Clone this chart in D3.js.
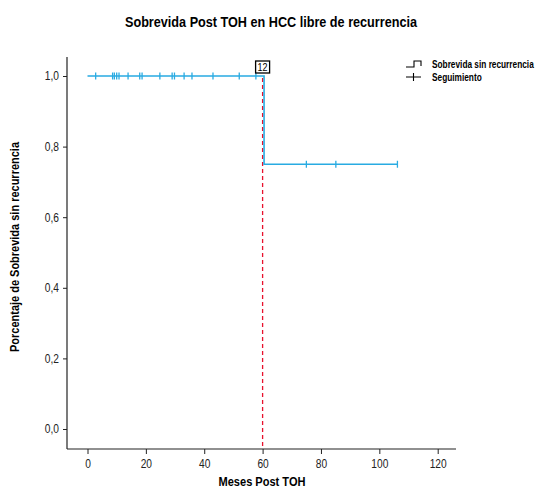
<!DOCTYPE html>
<html>
<head>
<meta charset="utf-8">
<script src="https://cdn.jsdelivr.net/npm/d3@7"></script>
<style>
  body { margin: 0; background: #fff; }
  text { font-family: "Liberation Sans", Arial, sans-serif; }
</style>
</head>
<body>
<svg id="chart" width="542" height="489"></svg>
<script>
// Kaplan-Meier steps (months, survival)
var stepTimes = [0, 60.5, 106.2];
var stepSurv = [1.0, 0.75, 0.75];
// censored follow-up marks
var censorTimes = [2.8, 8.6, 9.2, 10, 10.8, 13.9, 17.9, 18.7, 24.8, 29, 29.8, 33.1, 35.8, 43, 52, 57.7, 75, 85.1, 106.2];
var xTicks = [0, 20, 40, 60, 80, 100, 120];
var yTicks = [0, 0.2, 0.4, 0.6, 0.8, 1.0];
var refLineX = 60;
var boxLabel = "12";
var legendItems = ["Sobrevida sin recurrencia", "Seguimiento"];

var svg = d3.select("#chart");
var x = d3.scaleLinear().domain([0, 120]).range([87.5, 437.7]);
var y = d3.scaleLinear().domain([0, 1]).range([429, 76]);
var blue = "#29abe2";

// squeeze text to look like a narrow face
function narrow(sel, f) {
  sel.each(function() {
    var w = this.getComputedTextLength();
    d3.select(this).attr("textLength", w * f).attr("lengthAdjust", "spacingAndGlyphs");
  });
}

function survAt(t) {
  var s = stepSurv[0];
  for (var i = 0; i < stepTimes.length; i++) {
    if (stepTimes[i] <= t) s = stepSurv[i];
  }
  return s;
}

// axes
var xAxis = svg.append("g").attr("transform", "translate(0,449)")
  .call(d3.axisBottom(x).tickValues(xTicks).tickSize(5).tickSizeOuter(0));
xAxis.select(".domain").attr("d", "M67,0H456");
var yAxis = svg.append("g").attr("transform", "translate(67,0)")
  .call(d3.axisLeft(y).tickValues(yTicks).tickSize(4).tickPadding(4).tickSizeOuter(0)
    .tickFormat(function(d) { return d3.format(".1f")(d).replace(".", ","); }));
yAxis.select(".domain").attr("d", "M0,57V449");
svg.selectAll(".domain").attr("stroke", "#222").attr("stroke-width", 1.2);
svg.selectAll(".tick line").attr("stroke", "#222");
svg.selectAll(".tick text").attr("font-size", 12).attr("fill", "#222")
  .style("font-family", "'Liberation Sans', Arial, sans-serif");
xAxis.selectAll(".tick text").attr("dy", "0.9em");
narrow(svg.selectAll(".tick text"), 0.85);

// reference line
svg.append("line")
  .attr("x1", x(refLineX)).attr("x2", x(refLineX))
  .attr("y1", y(1) + 2).attr("y2", 449)
  .attr("stroke", "#e8112d").attr("stroke-width", 1.3)
  .attr("stroke-dasharray", "4,3");

// step curve
var pts = [];
for (var i = 0; i < stepTimes.length; i++) {
  pts.push([stepTimes[i], stepSurv[i]]);
}
svg.append("path")
  .attr("d", d3.line().x(function(d) { return x(d[0]); }).y(function(d) { return y(d[1]); })
    .curve(d3.curveStepAfter)(pts))
  .attr("fill", "none").attr("stroke", blue).attr("stroke-width", 1.6);

// censor marks
svg.append("g").selectAll("line").data(censorTimes).enter().append("line")
  .attr("x1", function(d) { return x(d); }).attr("x2", function(d) { return x(d); })
  .attr("y1", function(d) { return y(survAt(d)) - 3.5; })
  .attr("y2", function(d) { return y(survAt(d)) + 3.5; })
  .attr("stroke", blue).attr("stroke-width", 1.3);

// box label
var bx = x(refLineX) - 7, by = 61;
svg.append("rect").attr("x", bx).attr("y", by).attr("width", 14).attr("height", 12)
  .attr("fill", "#fff").attr("stroke", "#000").attr("stroke-width", 1.3);
svg.append("text").attr("x", bx + 7).attr("y", by + 10).attr("text-anchor", "middle")
  .attr("font-size", 10).attr("textLength", 10).attr("lengthAdjust", "spacingAndGlyphs").text(boxLabel);

// legend
var lg = svg.append("g").attr("transform", "translate(406,0)");
lg.append("path").attr("d", "M0,67H8V61H15V66").attr("fill", "none").attr("stroke", "#000").attr("stroke-width", 1.1);
lg.append("path").attr("d", "M0,77H15M7.5,73V81").attr("fill", "none").attr("stroke", "#000").attr("stroke-width", 1.1);
lg.selectAll("text").data(legendItems).enter().append("text")
  .attr("transform", function(d, i) { return "translate(26," + (68 + i * 13) + ") scale(0.83,1)"; })
  .attr("font-size", 10).attr("font-weight", "bold")
  .text(function(d) { return d; });

// titles
var t1 = svg.append("text").attr("x", 271).attr("y", 27).attr("text-anchor", "middle")
  .attr("font-size", 14).attr("font-weight", "bold").text("Sobrevida Post TOH en HCC libre de recurrencia");
t1.attr("textLength", 292).attr("lengthAdjust", "spacingAndGlyphs");
var t2 = svg.append("text").attr("x", 262).attr("y", 486).attr("text-anchor", "middle")
  .attr("font-size", 12.5).attr("font-weight", "bold").text("Meses Post TOH");
t2.attr("textLength", 87).attr("lengthAdjust", "spacingAndGlyphs");
var t3 = svg.append("text").attr("transform", "translate(19,247) rotate(-90)").attr("text-anchor", "middle")
  .attr("font-size", 12.5).attr("font-weight", "bold").text("Porcentaje de Sobrevida sin recurrencia");
t3.attr("textLength", 210).attr("lengthAdjust", "spacingAndGlyphs");
</script>
</body>
</html>
